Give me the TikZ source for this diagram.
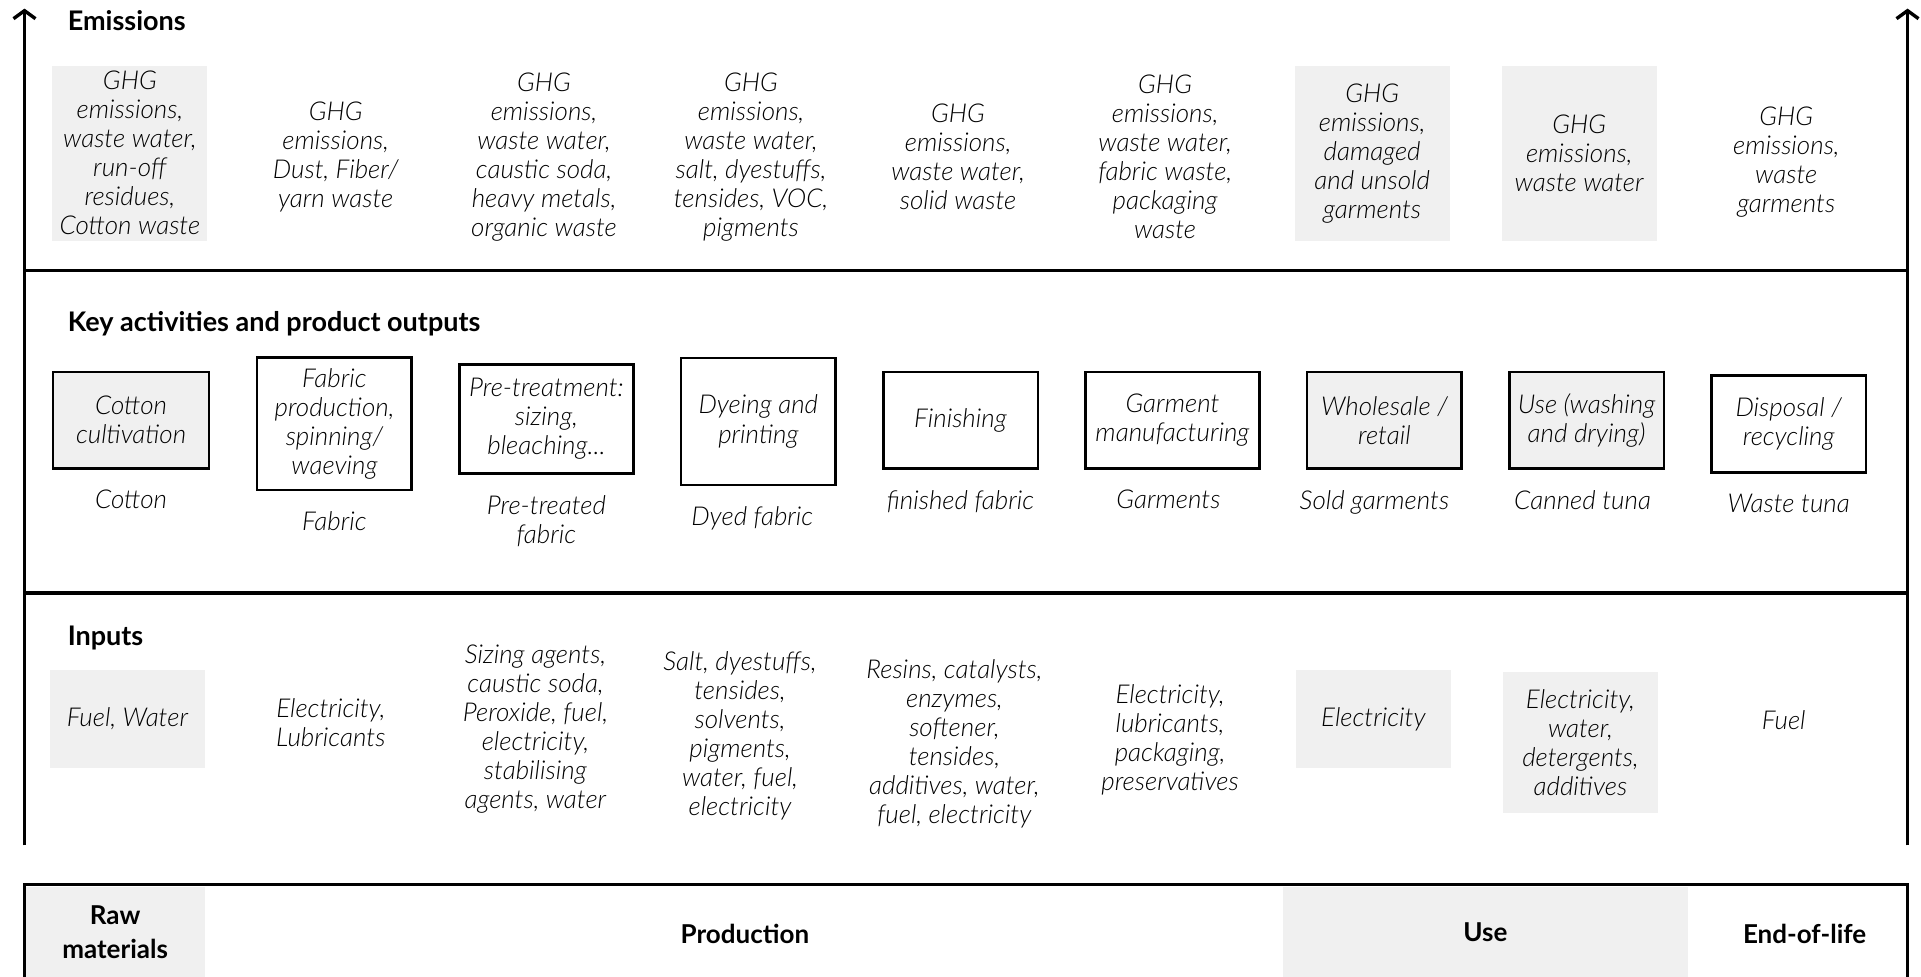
\documentclass[tikz,border=0pt]{standalone}
\usepackage{fontspec}
\setmainfont{Lato}[ItalicFont={Lato Light Italic}]
\usepackage{tikz}
\usetikzlibrary{positioning, arrows.meta}
\definecolor{boxgray}{HTML}{F0F0F0}

\tikzset{
  heading/.style={anchor=west, inner sep=0pt, font=\bfseries\fontsize{13.5}{15}\selectfont},
  stagelabel/.style={align=center, inner sep=0pt, font=\bfseries\fontsize{13}{17}\selectfont},
  item/.style={align=center, inner sep=0pt, font=\itshape\fontsize{13}{14.5}\selectfont},
  shaded/.style={fill=boxgray, minimum width=77.5pt, minimum height=87.6pt},
  activity/.style={item, draw, line width=1.2pt, minimum width=77.2pt, minimum height=48.4pt},
  axis/.style={line width=1.7pt},
}

\begin{document}
\begin{tikzpicture}[x=0.6125pt, y=-0.6125pt, >={Straight Barb[length=4pt, width=11pt]}]

\useasboundingbox (0,0) rectangle (1568,797);

% frame and axes
\coordinate (left_bottom) at (20,690);
\coordinate (left_top) at (20,7);
\coordinate (right_bottom) at (1557,690);
\coordinate (right_top) at (1557,7);
\coordinate (split_em_l) at (20,221);
\coordinate (split_em_r) at (1557,221);
\coordinate (split_in_l) at (20,484);
\coordinate (split_in_r) at (1557,484);
\coordinate (stage_bl) at (20,800);
\coordinate (stage_tl) at (20,722);
\coordinate (stage_tr) at (1557,722);
\coordinate (stage_br) at (1557,800);

\draw[->, axis] (left_bottom) -- (left_top);
\draw[->, axis] (right_bottom) -- (right_top);
\draw[axis] (split_em_l) -- (split_em_r);
\draw[axis] (split_in_l) -- (split_in_r);

% life cycle stages
\node (stage_raw) [stagelabel, fill=boxgray, minimum width=89.4pt, minimum height=45pt] at (94,761) {Raw\\materials};
\node (stage_use) [stagelabel, fill=boxgray, minimum width=202.7pt, minimum height=45pt] at (1212.5,761) {Use};
\node (stage_prod) [stagelabel] at (608,762) {Production};
\node (stage_eol) [stagelabel] at (1473,762) {End-of-life};
\draw[axis] (stage_bl) -- (stage_tl) -- (stage_tr) -- (stage_br);

% row headings
\node (head_em) [heading] at (55,17) {Emissions};
\node (head_act) [heading] at (55,264) {Key activities and product outputs};
\node (head_in) [heading] at (55,521) {Inputs};

% emissions
\node (em_cotton) [item, shaded] at (106,125) {GHG\\emissions,\\waste water,\\run-off\\residues,\\Cotton waste};
\node (em_fabric) [item] at (274,128) {GHG\\emissions,\\Dust, Fiber/\\yarn waste};
\node (em_pretreat) [item] at (444,128) {GHG\\emissions,\\waste water,\\caustic soda,\\heavy metals,\\organic waste};
\node (em_dyeing) [item] at (613,128) {GHG\\emissions,\\waste water,\\salt, dyestuffs,\\tensides, VOC,\\pigments};
\node (em_finishing) [item] at (782,128) {GHG\\emissions,\\waste water,\\solid waste};
\node (em_garment) [item] at (951,128) {GHG\\emissions,\\waste water,\\fabric waste,\\packaging\\waste};
\node (em_retail) [item, shaded] at (1120,125) {GHG\\emissions,\\damaged\\and unsold\\garments};
\node (em_use) [item, shaded] at (1289,125) {GHG\\emissions,\\waste water};
\node (em_disposal) [item] at (1458,132) {GHG\\emissions,\\waste\\garments};

% key activities
\node (act_cotton) [activity, fill=boxgray, minimum width=77.8pt] at (107,343) {Cotton\\cultivation};
\node (act_fabric) [activity, minimum height=66.2pt] at (273,346) {Fabric\\production,\\spinning/\\waeving};
\node (act_pretreat) [activity, minimum width=87pt, minimum height=54.5pt] at (446,342) {Pre-treatment:\\sizing,\\bleaching...};
\node (act_dyeing) [activity, minimum height=63.7pt] at (619,344) {Dyeing and\\printing};
\node (act_finishing) [activity] at (784,343) {Finishing};
\node (act_garment) [activity, minimum width=87pt] at (957,343) {Garment\\manufacturing};
\node (act_retail) [activity, fill=boxgray] at (1130,343) {Wholesale /\\retail};
\node (act_use) [activity, fill=boxgray] at (1295,343) {Use (washing\\and drying)};
\node (act_disposal) [activity] at (1460,346) {Disposal /\\recycling};

% product outputs
\node (out_cotton) [item, below=10pt of act_cotton] {Cotton};
\node (out_fabric) [item, below=10pt of act_fabric] {Fabric};
\node (out_pretreat) [item, below=10pt of act_pretreat] {Pre-treated\\fabric};
\node (out_dyeing) [item, below=10pt of act_dyeing, xshift=-3pt] {Dyed fabric};
\node (out_finishing) [item, below=10pt of act_finishing] {finished fabric};
\node (out_garment) [item, below=10pt of act_garment, xshift=-2pt] {Garments};
\node (out_retail) [item, below=10pt of act_retail, xshift=-5pt] {Sold garments};
\node (out_use) [item, below=10pt of act_use, xshift=-2pt] {Canned tuna};
\node (out_disposal) [item, below=10pt of act_disposal] {Waste tuna};

% inputs
\node (in_cotton) [item, fill=boxgray, minimum width=77.2pt, minimum height=49pt] at (104,587) {Fuel, Water};
\node (in_fabric) [item] at (270,590) {Electricity,\\Lubricants};
\node (in_pretreat) [item] at (437,595) {Sizing agents,\\caustic soda,\\Peroxide, fuel,\\electricity,\\stabilising\\agents, water};
\node (in_dyeing) [item] at (604,601) {Salt, dyestuffs,\\tensides,\\solvents,\\pigments,\\water, fuel,\\electricity};
\node (in_finishing) [item] at (779,607) {Resins, catalysts,\\enzymes,\\softener,\\tensides,\\additives, water,\\fuel, electricity};
\node (in_garment) [item] at (955,604) {Electricity,\\lubricants,\\packaging,\\preservatives};
\node (in_retail) [item, fill=boxgray, minimum width=77.8pt, minimum height=49pt] at (1121,587) {Electricity};
\node (in_use) [item, fill=boxgray, minimum width=77.2pt, minimum height=70.4pt] at (1290,606) {Electricity,\\water,\\detergents,\\additives};
\node (in_disposal) [item] at (1456,588) {Fuel};

\end{tikzpicture}
\end{document}
